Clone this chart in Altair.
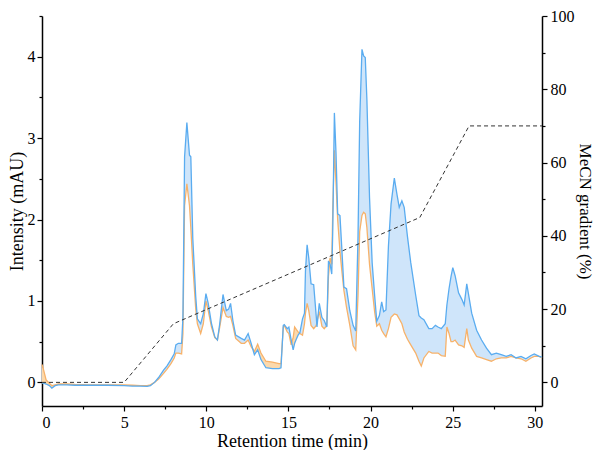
import altair as alt
import pandas as pd

# Retention time (min)
time = [0.00, 0.10, 0.25, 0.45, 0.60, 0.80, 1.0, 1.5, 2.0, 3.0, 4.0, 5.0, 5.5, 6.0, 6.4, 6.6,
        6.85, 7.1, 7.4, 7.6, 7.85, 8.05, 8.15, 8.3, 8.5, 8.58, 8.68, 8.82, 8.98, 9.06, 9.18,
        9.36, 9.46, 9.66, 9.82, 9.98, 10.12, 10.32, 10.52, 10.68, 10.82, 11.02, 11.22, 11.36,
        11.48, 11.62, 11.79, 12.13, 12.33, 12.55, 12.73, 12.93, 13.13, 13.33, 13.63, 14.03,
        14.43, 14.55, 14.69, 14.75, 14.93, 15.03, 15.17, 15.29, 15.38, 15.48, 15.59, 15.70,
        15.86, 15.98, 16.04, 16.14, 16.24, 16.38, 16.54, 16.70, 16.74, 16.88, 17.04, 17.18,
        17.34, 17.44, 17.54, 17.64, 17.70, 17.80, 17.90, 18.00, 18.14, 18.24, 18.38, 18.54,
        18.74, 18.94, 19.10, 19.24, 19.34, 19.48, 19.58, 19.68, 19.78, 19.94, 20.10, 20.25,
        20.38, 20.54, 20.68, 20.80, 20.94, 21.09, 21.25, 21.45, 21.61, 21.75, 21.91, 22.05,
        22.25, 22.45, 22.75, 22.95, 23.09, 23.25, 23.55, 23.75, 23.95, 24.11, 24.31, 24.55,
        24.65, 24.78, 24.90, 25.01, 25.15, 25.36, 25.56, 25.70, 25.86, 25.96, 26.16, 26.46,
        26.76, 27.06, 27.36, 27.66, 27.96, 28.26, 28.56, 28.86, 29.16, 29.46, 29.77, 29.97,
        30.27, 30.44]

# Blue trace (mAU)
blue = [-0.01, -0.01, -0.02, -0.04, -0.07, -0.04, -0.03, -0.03, -0.035, -0.035, -0.035, -0.04,
        -0.045, -0.045, -0.05, -0.04, 0.0, 0.06, 0.15, 0.20, 0.28, 0.35, 0.46, 0.48, 0.48, 0.80,
        2.77, 3.19, 2.79, 2.77, 1.77, 1.05, 0.78, 0.72, 0.84, 1.09, 0.97, 0.72, 0.56, 0.52, 0.72,
        1.08, 0.88, 0.90, 0.97, 0.76, 0.58, 0.54, 0.52, 0.60, 0.48, 0.34, 0.40, 0.28, 0.18, 0.17,
        0.17, 0.18, 0.70, 0.71, 0.66, 0.68, 0.52, 0.40, 0.48, 0.53, 0.58, 0.61, 0.78, 0.85, 1.37,
        1.69, 1.53, 1.21, 1.20, 0.80, 0.68, 0.97, 0.80, 0.76, 0.68, 1.49, 1.45, 1.33, 1.85, 3.31,
        2.81, 2.07, 2.05, 1.69, 1.17, 1.15, 0.88, 0.70, 0.63, 1.80, 3.20, 4.09, 4.01, 3.99, 3.47,
        2.27, 1.47, 1.07, 0.75, 0.82, 0.99, 0.87, 0.89, 1.67, 2.19, 2.51, 2.31, 2.15, 2.23, 2.15,
        1.79, 1.47, 1.07, 0.82, 0.79, 0.77, 0.66, 0.66, 0.70, 0.68, 0.66, 0.72, 0.95, 1.15, 1.30,
        1.41, 1.31, 1.10, 1.02, 0.95, 1.21, 1.09, 0.85, 0.64, 0.52, 0.42, 0.34, 0.36, 0.34, 0.32,
        0.34, 0.30, 0.32, 0.29, 0.33, 0.35, 0.32, 0.31]

# Orange trace (mAU)
orange = [0.22, 0.15, 0.03, -0.01, -0.04, -0.03, -0.02, -0.02, -0.025, -0.03, -0.03, -0.03,
          -0.035, -0.04, -0.04, -0.03, 0.0, 0.04, 0.11, 0.16, 0.23, 0.30, 0.36, 0.36, 0.35, 0.60,
          2.17, 2.44, 2.17, 1.90, 1.45, 0.90, 0.72, 0.60, 0.72, 1.00, 0.88, 0.68, 0.55, 0.52, 0.68,
          0.92, 0.81, 0.80, 0.81, 0.70, 0.54, 0.48, 0.48, 0.52, 0.44, 0.38, 0.47, 0.36, 0.26, 0.25,
          0.23, 0.23, 0.68, 0.70, 0.62, 0.60, 0.46, 0.55, 0.68, 0.65, 0.62, 0.60, 0.58, 0.72, 0.85,
          0.97, 0.88, 0.70, 0.66, 0.70, 0.75, 0.87, 0.69, 0.66, 0.70, 1.30, 1.53, 1.45, 2.10, 2.85,
          2.45, 2.00, 1.61, 1.40, 1.13, 0.92, 0.70, 0.45, 0.40, 1.07, 1.85, 2.05, 2.09, 2.07, 1.90,
          1.45, 1.15, 0.87, 0.69, 0.72, 0.64, 0.60, 0.56, 0.66, 0.80, 0.84, 0.83, 0.78, 0.72, 0.62,
          0.53, 0.46, 0.36, 0.26, 0.20, 0.30, 0.38, 0.36, 0.36, 0.36, 0.33, 0.32, 0.68, 0.60, 0.50,
          0.50, 0.52, 0.46, 0.45, 0.43, 0.66, 0.52, 0.42, 0.32, 0.30, 0.28, 0.26, 0.29, 0.30, 0.30,
          0.32, 0.30, 0.29, 0.26, 0.30, 0.32, 0.32, 0.30]

# MeCN gradient program
grad_time = [0, 5, 8, 23, 26, 30.44]
grad_pct = [0, 0, 16, 45, 70, 70]

FONT = "Liberation Serif"
X_DOMAIN = [0, 30.44]

df = pd.DataFrame({"t": time, "blue": blue, "orange": orange})
df["hi"] = df[["blue", "orange"]].max(axis=1)
gdf = pd.DataFrame({"t": grad_time, "pct": grad_pct})

common = dict(
    grid=False,
    labelFont=FONT,
    titleFont=FONT,
    labelFontSize=16,
    titleFontWeight="normal",
    labelColor="black",
    titleColor="black",
    domainColor="black",
    tickColor="black",
    domainWidth=1.5,
    tickWidth=1.2,
)

xaxis = alt.Axis(
    title="Retention time (min)",
    values=[i * 2.5 for i in range(13)],
    labelExpr="datum.value % 5 == 0 ? format(datum.value, 'd') : ''",
    tickSize={"condition": {"test": "datum.value % 5 != 0", "value": 3}, "value": 5},
    titlePadding=2,
    titleFontSize=18,
    labelPadding=3,
    **common,
)
x = alt.X("t:Q", scale=alt.Scale(domain=X_DOMAIN, nice=False, zero=False), axis=xaxis)

yscale = alt.Scale(domain=[-0.29, 4.5], nice=False, zero=False)
yaxis = alt.Axis(
    title="Intensity (mAU)",
    values=[i * 0.5 for i in range(10)],
    labelExpr="datum.value % 1 == 0 ? format(datum.value, 'd') : ''",
    tickSize={"condition": {"test": "datum.value % 1 != 0", "value": 3}, "value": 5},
    titlePadding=1,
    titleFontSize=18,
    labelPadding=2,
    **common,
)

base = alt.Chart(df)
fill_blue = base.mark_area(color="#CFE5FA", opacity=1).encode(
    x=x, y=alt.Y("orange:Q", scale=yscale, axis=yaxis), y2="hi:Q"
)
fill_orange = base.mark_area(color="#FCD9AC", opacity=1).encode(
    x=x, y=alt.Y("blue:Q", scale=yscale), y2="hi:Q"
)
line_orange = base.mark_line(color="#F7B26A", strokeWidth=1.3).encode(
    x=x, y=alt.Y("orange:Q", scale=yscale)
)
line_blue = base.mark_line(color="#5AACF0", strokeWidth=1.3).encode(
    x=x, y=alt.Y("blue:Q", scale=yscale)
)
left = alt.layer(fill_blue, fill_orange, line_orange, line_blue)

grad = alt.Chart(gdf).mark_line(color="#333333", strokeWidth=1, strokeDash=[4, 3]).encode(
    x=x,
    y=alt.Y(
        "pct:Q",
        scale=alt.Scale(domain=[-6.45, 100], nice=False, zero=False),
        axis=alt.Axis(
            title="MeCN gradient (%)",
            orient="right",
            values=[i * 10 for i in range(11)],
            labelExpr="datum.value % 20 == 0 ? format(datum.value, 'd') : ''",
            tickSize={"condition": {"test": "datum.value % 20 != 0", "value": 3}, "value": 5},
            titleAngle=90,
            titlePadding=1,
            titleFontSize=17,
            labelPadding=3,
            **common,
        ),
    ),
)

chart = (
    alt.layer(left, grad)
    .resolve_scale(y="independent")
    .properties(
        width=586,
        height=442,
        background="white",
        autosize=alt.AutoSizeParams(type="fit", contains="padding"),
        padding={"left": 0, "top": 0, "bottom": 0, "right": 1},
    )
    .configure(font=FONT)
    .configure_view(stroke=None)
)

chart.save("out.html", embed_options={"renderer": "svg", "actions": False})
